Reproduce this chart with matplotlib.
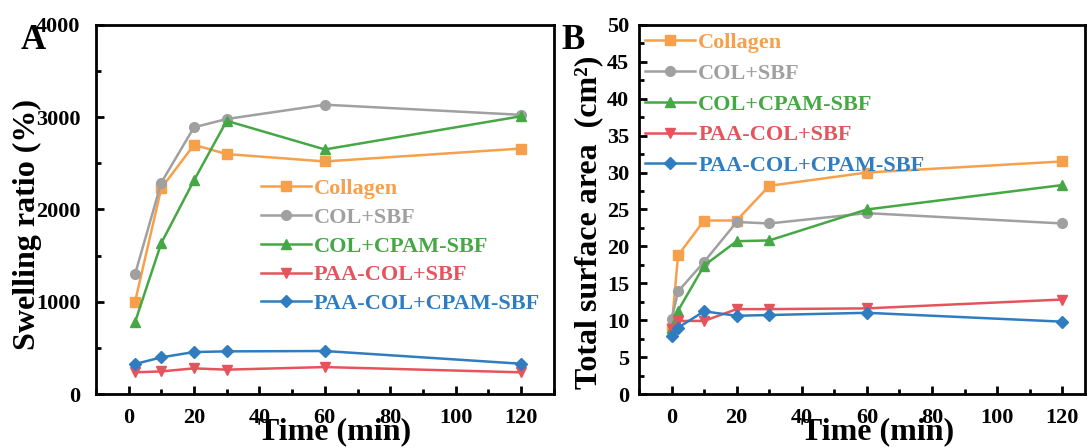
import numpy as np
import matplotlib
matplotlib.use('Agg')
import matplotlib.pyplot as plt
from matplotlib.ticker import MultipleLocator

plt.rcParams['font.family'] = ['Liberation Serif', 'DejaVu Serif']
plt.rcParams['font.weight'] = 'bold'

labels = ['Collagen', 'COL+SBF', 'COL+CPAM-SBF', 'PAA-COL+SBF', 'PAA-COL+CPAM-SBF']
colors = ['#F7A04B', '#A0A0A0', '#45A845', '#E5545C', '#2F7DC0']
markers = ['s', 'o', '^', 'v', 'D']

# Panel A: swelling ratio (%)
time_a = [2, 10, 20, 30, 60, 120]
collagen_a = [1000, 2230, 2700, 2600, 2520, 2660]
col_sbf_a = [1300, 2290, 2890, 2980, 3135, 3025]
col_cpam_a = [780, 1635, 2315, 2960, 2650, 3010]
paa_sbf_a = [235, 245, 278, 264, 292, 235]
paa_cpam_a = [325, 397, 455, 462, 466, 328]

# Panel B: total surface area (cm2)
time_b = [0, 2, 10, 20, 30, 60, 120]
collagen_b = [9.0, 18.8, 23.5, 23.5, 28.2, 30.0, 31.5]
col_sbf_b = [10.1, 13.9, 17.9, 23.3, 23.1, 24.5, 23.1]
col_cpam_b = [9.0, 11.3, 17.4, 20.7, 20.8, 25.0, 28.3]
paa_sbf_b = [8.8, 9.9, 9.9, 11.5, 11.5, 11.6, 12.8]
paa_cpam_b = [7.8, 9.0, 11.2, 10.6, 10.7, 11.0, 9.8]

series_a = [collagen_a, col_sbf_a, col_cpam_a, paa_sbf_a, paa_cpam_a]
series_b = [collagen_b, col_sbf_b, col_cpam_b, paa_sbf_b, paa_cpam_b]

fig = plt.figure(figsize=(10.89, 4.48), dpi=100)
ax_a = fig.add_axes([0.088, 0.1205, 0.4206, 0.824])
ax_b = fig.add_axes([0.5868, 0.1205, 0.4096, 0.824])


def style_axes(ax, ypad):
    for sp in ax.spines.values():
        sp.set_linewidth(2.0)
    ax.tick_params(which='both', direction='in', width=2.0, labelsize=16)
    ax.tick_params(axis='x', pad=10)
    ax.tick_params(axis='y', pad=ypad)
    ax.tick_params(which='major', length=6)
    ax.tick_params(which='minor', length=3.5)
    ax.xaxis.set_major_locator(MultipleLocator(20))
    ax.xaxis.set_minor_locator(MultipleLocator(10))
    for lab in ax.get_xticklabels() + ax.get_yticklabels():
        lab.set_fontweight('bold')


def draw(ax, x, series):
    for y, lab, c, m in zip(series, labels, colors, markers):
        ax.plot(x, y, color=c, marker=m, markersize=7 if m != 'D' else 6,
                linewidth=1.8, label=lab)


def add_legend(ax, anchor, spacing):
    leg = ax.legend(loc='center left', bbox_to_anchor=anchor, frameon=False,
                    fontsize=16, handlelength=2.25, handletextpad=0.15,
                    labelspacing=spacing, borderaxespad=0, borderpad=0.1)
    for t, c in zip(leg.get_texts(), colors):
        t.set_color(c)


draw(ax_a, time_a, series_a)
ax_a.set_xlim(-10, 130)
ax_a.set_ylim(0, 4000)
ax_a.yaxis.set_major_locator(MultipleLocator(1000))
ax_a.yaxis.set_minor_locator(MultipleLocator(500))
style_axes(ax_a, 11)
ax_a.set_ylabel('Swelling ratio (%)', fontsize=23, fontweight='bold')
ax_a.set_xlabel('Time (min)', fontsize=23, fontweight='bold')
ax_a.yaxis.set_label_coords(-0.118, 0.46)
ax_a.xaxis.set_label_coords(0.522, -0.064)
add_legend(ax_a, (0.355, 0.40), 0.37)

draw(ax_b, time_b, series_b)
ax_b.set_xlim(-10, 127)
ax_b.set_ylim(0, 50)
ax_b.yaxis.set_major_locator(MultipleLocator(5))
ax_b.yaxis.set_minor_locator(MultipleLocator(2.5))
style_axes(ax_b, 7)
ax_b.set_ylabel('Total surface area  (cm²)', fontsize=23, fontweight='bold')
ax_b.set_xlabel('Time (min)', fontsize=23, fontweight='bold')
ax_b.yaxis.set_label_coords(-0.081, 0.466)
ax_b.xaxis.set_label_coords(0.534, -0.064)
add_legend(ax_b, (0.008, 0.785), 0.46)

fig.text(0.019, 0.89, 'A', fontsize=25, fontweight='bold')
fig.text(0.516, 0.89, 'B', fontsize=25, fontweight='bold')

fig.savefig('out.png', dpi=100)
